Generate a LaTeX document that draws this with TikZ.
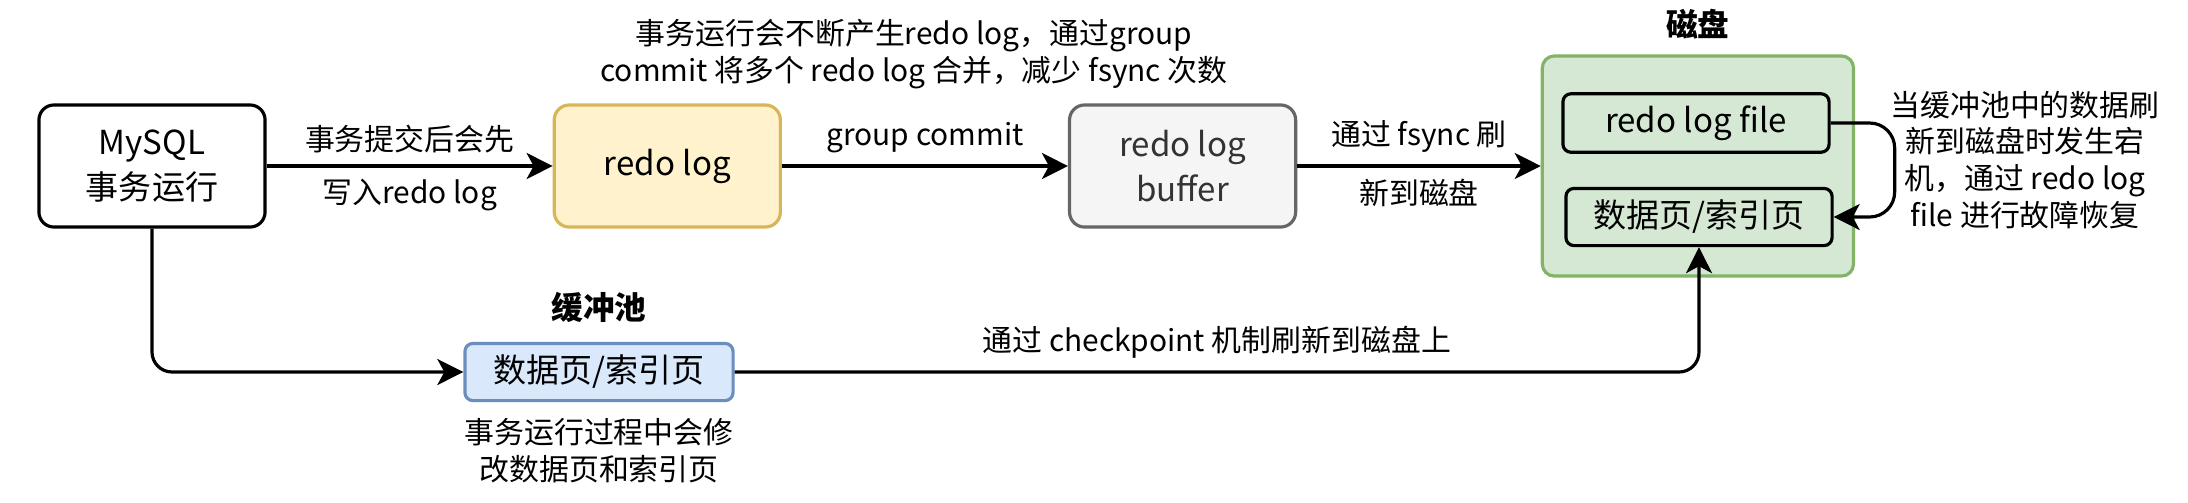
\documentclass[tikz,border=0pt]{standalone}
\usepackage{fontspec}
\setmainfont{Noto Sans CJK SC}
\usetikzlibrary{positioning,arrows.meta}

\definecolor{redofill}{HTML}{FFF2CC}
\definecolor{redoline}{HTML}{D6B656}
\definecolor{buffill}{HTML}{F5F5F5}
\definecolor{bufline}{HTML}{666666}
\definecolor{buftext}{HTML}{333333}
\definecolor{diskfill}{HTML}{D5E8D4}
\definecolor{diskline}{HTML}{82B366}
\definecolor{poolfill}{HTML}{DAE8FC}
\definecolor{poolline}{HTML}{6C8EBF}

\begin{document}
\begin{tikzpicture}[x=0.01cm, y=-0.01cm, node distance={5.15cm}, line width=0.9pt,
  main/.style = {draw, rounded corners=0.15cm, minimum width=2.26cm, minimum height=1.22cm, align=center, font=\fontsize{9.4}{13}\selectfont},
  page/.style = {draw, rounded corners=0.08cm, minimum width=2.66cm, minimum height=0.56cm, font=\fontsize{9.4}{11}\selectfont},
  note/.style = {align=center, font=\fontsize{8.5}{10.5}\selectfont},
  title/.style = {font=\fontsize{9}{11}\selectfont\bfseries},
  flow/.style = {-{Stealth[length=0.26cm, width=0.26cm, inset=0.07cm]}}]
            \path[fill=white, use as bounding box] (0,0) rectangle (2188,502);

            \node[main] (mysql) at (152,166) {MySQL\\事务运行};
            \node[main, fill=redofill, draw=redoline] (redo) [right of=mysql] {redo log};
            \node[main, fill=buffill, draw=bufline, text=buftext] (buf) [right of=redo] {redo log\\buffer};
            \node[main, fill=diskfill, draw=diskline, rounded corners=0.12cm, minimum width=3.11cm, minimum height=2.2cm] (disk) [right of=buf] {};
            \node[page] (rlf) at (1696,123) {redo log file};
            \node[page] (dp) at (1699,217) {数据页/索引页};
            \node[page, fill=poolfill, draw=poolline, minimum width=2.68cm, minimum height=0.55cm] (bp) at (599,372) {数据页/索引页};

            \node[title, above=0.02cm of disk] (disktitle) {磁盘};
            \node[title, above=0.06cm of bp] (pooltitle) {缓冲池};
            \node[note] (merge) at (914,54) {事务运行会不断产生redo log，通过group\\commit 将多个 redo log 合并，减少 fsync 次数};
            \node[note] (recover) at (2025,160) {当缓冲池中的数据刷\\新到磁盘时发生宕\\机，通过 redo log\\file 进行故障恢复};
            \node[note, below=0.03cm of bp] (modify) {事务运行过程中会修\\改数据页和索引页};

            \path[flow] (mysql) edge node[note, above] {事务提交后会先} node[note, below] {写入redo log} (redo);

            \path[flow] (redo) edge node[note, above] {group commit} (buf);

            \path[flow] (buf) edge node[note, above] {通过 fsync 刷} node[note, below] {新到磁盘} (disk);

            \draw[flow, rounded corners=0.2cm] (mysql) |- (bp);
            \draw[flow, rounded corners=0.2cm] (bp) -| node[note, above, pos=0.25] {通过 checkpoint 机制刷新到磁盘上} (dp);
            \draw[flow, rounded corners=0.25cm] (rlf.east) -- ++(64,0) |- (dp.east);
        \end{tikzpicture}
\end{document}
